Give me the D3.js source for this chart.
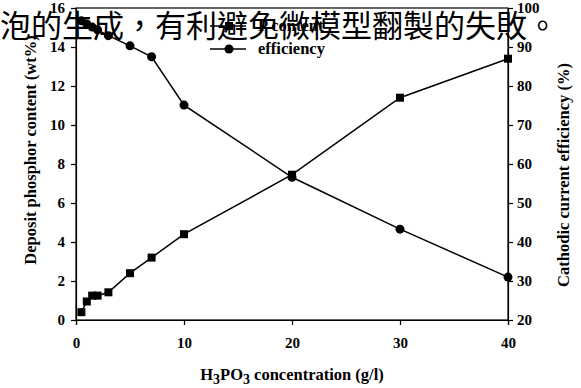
<!DOCTYPE html>
<html>
<head>
<meta charset="utf-8">
<script src="https://cdn.jsdelivr.net/npm/d3@7"></script>
<style>
  body { margin: 0; background: #fff; }
  svg text { font-family: "Liberation Serif", serif; font-weight: bold; }
</style>
</head>
<body>
<div id="chart"></div>
<script>
// H3PO3 concentration (g/l)
const concentration = [0.5, 1, 1.5, 2, 3, 5, 7, 10, 20, 30, 40];
// deposit phosphor content (wt%), left axis
const phosphor = [0.4, 0.95, 1.25, 1.25, 1.42, 2.4, 3.2, 4.4, 7.45, 11.4, 13.4];
// cathodic current efficiency (%), right axis
const efficiency = [96.7, 95.9, 95.1, 94.4, 92.9, 90.3, 87.5, 75.1, 56.6, 43.3, 31];

const xTicks = [0, 10, 20, 30, 40];
const yLeftTicks = [0, 2, 4, 6, 8, 10, 12, 14, 16];
const yRightTicks = [20, 30, 40, 50, 60, 70, 80, 90, 100];
const legendLabels = ["P content", "efficiency"];
const overlayText = "泡的生成，有利避免微模型翻製的失敗。";

const W = 581, H = 388;
const plotLeft = 76, plotRight = 508, plotTop = 8, plotBottom = 320;

const svg = d3.select("#chart").append("svg")
    .attr("width", W)
    .attr("height", H);

const x = d3.scaleLinear().domain([0, 40]).range([plotLeft, plotRight]);
const yL = d3.scaleLinear().domain([0, 16]).range([plotBottom, plotTop]);
const yR = d3.scaleLinear().domain([20, 100]).range([plotBottom, plotTop]);

// frame
svg.append("rect")
    .attr("x", plotLeft).attr("y", plotTop)
    .attr("width", plotRight - plotLeft).attr("height", plotBottom - plotTop)
    .attr("fill", "none").attr("stroke", "#000").attr("stroke-width", 1.2);

function styleAxis(g) {
    g.select(".domain").attr("stroke", "#000").attr("stroke-width", 1.2);
    g.selectAll(".tick line").attr("stroke", "#000").attr("stroke-width", 1.2);
    g.selectAll(".tick text").attr("font-size", 15).attr("fill", "#000")
        .attr("font-family", "Liberation Serif").attr("font-weight", "bold");
}

svg.append("g")
    .attr("transform", "translate(0," + plotBottom + ")")
    .call(d3.axisBottom(x).tickValues(xTicks).tickSize(5).tickPadding(12))
    .call(styleAxis);

svg.append("g")
    .attr("transform", "translate(" + plotLeft + ",0)")
    .call(d3.axisLeft(yL).tickValues(yLeftTicks).tickSize(5).tickPadding(6))
    .call(styleAxis);

svg.append("g")
    .attr("transform", "translate(" + plotRight + ",0)")
    .call(d3.axisRight(yR).tickValues(yRightTicks).tickSize(5).tickPadding(4))
    .call(styleAxis);

// axis titles
const xt = svg.append("text")
    .attr("x", 292).attr("y", 380)
    .attr("text-anchor", "middle").attr("font-size", 16.5);
xt.append("tspan").text("H");
xt.append("tspan").text("3").attr("dy", 4).attr("font-size", 14);
xt.append("tspan").text("PO").attr("dy", -4);
xt.append("tspan").text("3").attr("dy", 4).attr("font-size", 14);
xt.append("tspan").text(" concentration (g/l)").attr("dy", -4);

svg.append("text")
    .attr("transform", "translate(36,150) rotate(-90)")
    .attr("text-anchor", "middle").attr("font-size", 16.5)
    .text("Deposit phosphor content (wt%)");

svg.append("text")
    .attr("transform", "translate(569,175) rotate(-90)")
    .attr("text-anchor", "middle").attr("font-size", 16.5)
    .text("Cathodic current efficiency (%)");

// series
const pts = concentration.map((c, i) => ({c: c, p: phosphor[i], e: efficiency[i]}));

svg.append("path").datum(pts)
    .attr("fill", "none").attr("stroke", "#000").attr("stroke-width", 1.5)
    .attr("d", d3.line().x(d => x(d.c)).y(d => yL(d.p)));

svg.append("path").datum(pts)
    .attr("fill", "none").attr("stroke", "#000").attr("stroke-width", 1.5)
    .attr("d", d3.line().x(d => x(d.c)).y(d => yR(d.e)));

svg.selectAll("rect.sq").data(pts).enter().append("rect")
    .attr("class", "sq")
    .attr("x", d => x(d.c) - 4).attr("y", d => yL(d.p) - 4)
    .attr("width", 8).attr("height", 8).attr("fill", "#000");

svg.selectAll("circle.ci").data(pts).enter().append("circle")
    .attr("class", "ci")
    .attr("cx", d => x(d.c)).attr("cy", d => yR(d.e))
    .attr("r", 4.5).attr("fill", "#000");

// legend
const legend = svg.append("g");
legendLabels.forEach((lab, i) => {
    const ly = 26 + i * 23;
    legend.append("line")
        .attr("x1", 210).attr("x2", 246).attr("y1", ly).attr("y2", ly)
        .attr("stroke", "#000").attr("stroke-width", 1.5);
    if (i === 0) {
        legend.append("rect").attr("x", 225).attr("y", ly - 4)
            .attr("width", 8).attr("height", 8).attr("fill", "#000");
    } else {
        legend.append("circle").attr("cx", 229).attr("cy", ly).attr("r", 4.5).attr("fill", "#000");
    }
    legend.append("text")
        .attr("x", 258).attr("y", ly + 5)
        .attr("font-size", 16.5).text(lab);
});

// overlaid caption text
svg.append("text")
    .attr("x", 0).attr("y", 37)
    .style("font-family", "'Noto Sans CJK TC', sans-serif")
    .style("font-weight", "normal")
    .attr("font-size", 31)
    .attr("fill", "#000")
    .text(overlayText);
</script>
</body>
</html>
